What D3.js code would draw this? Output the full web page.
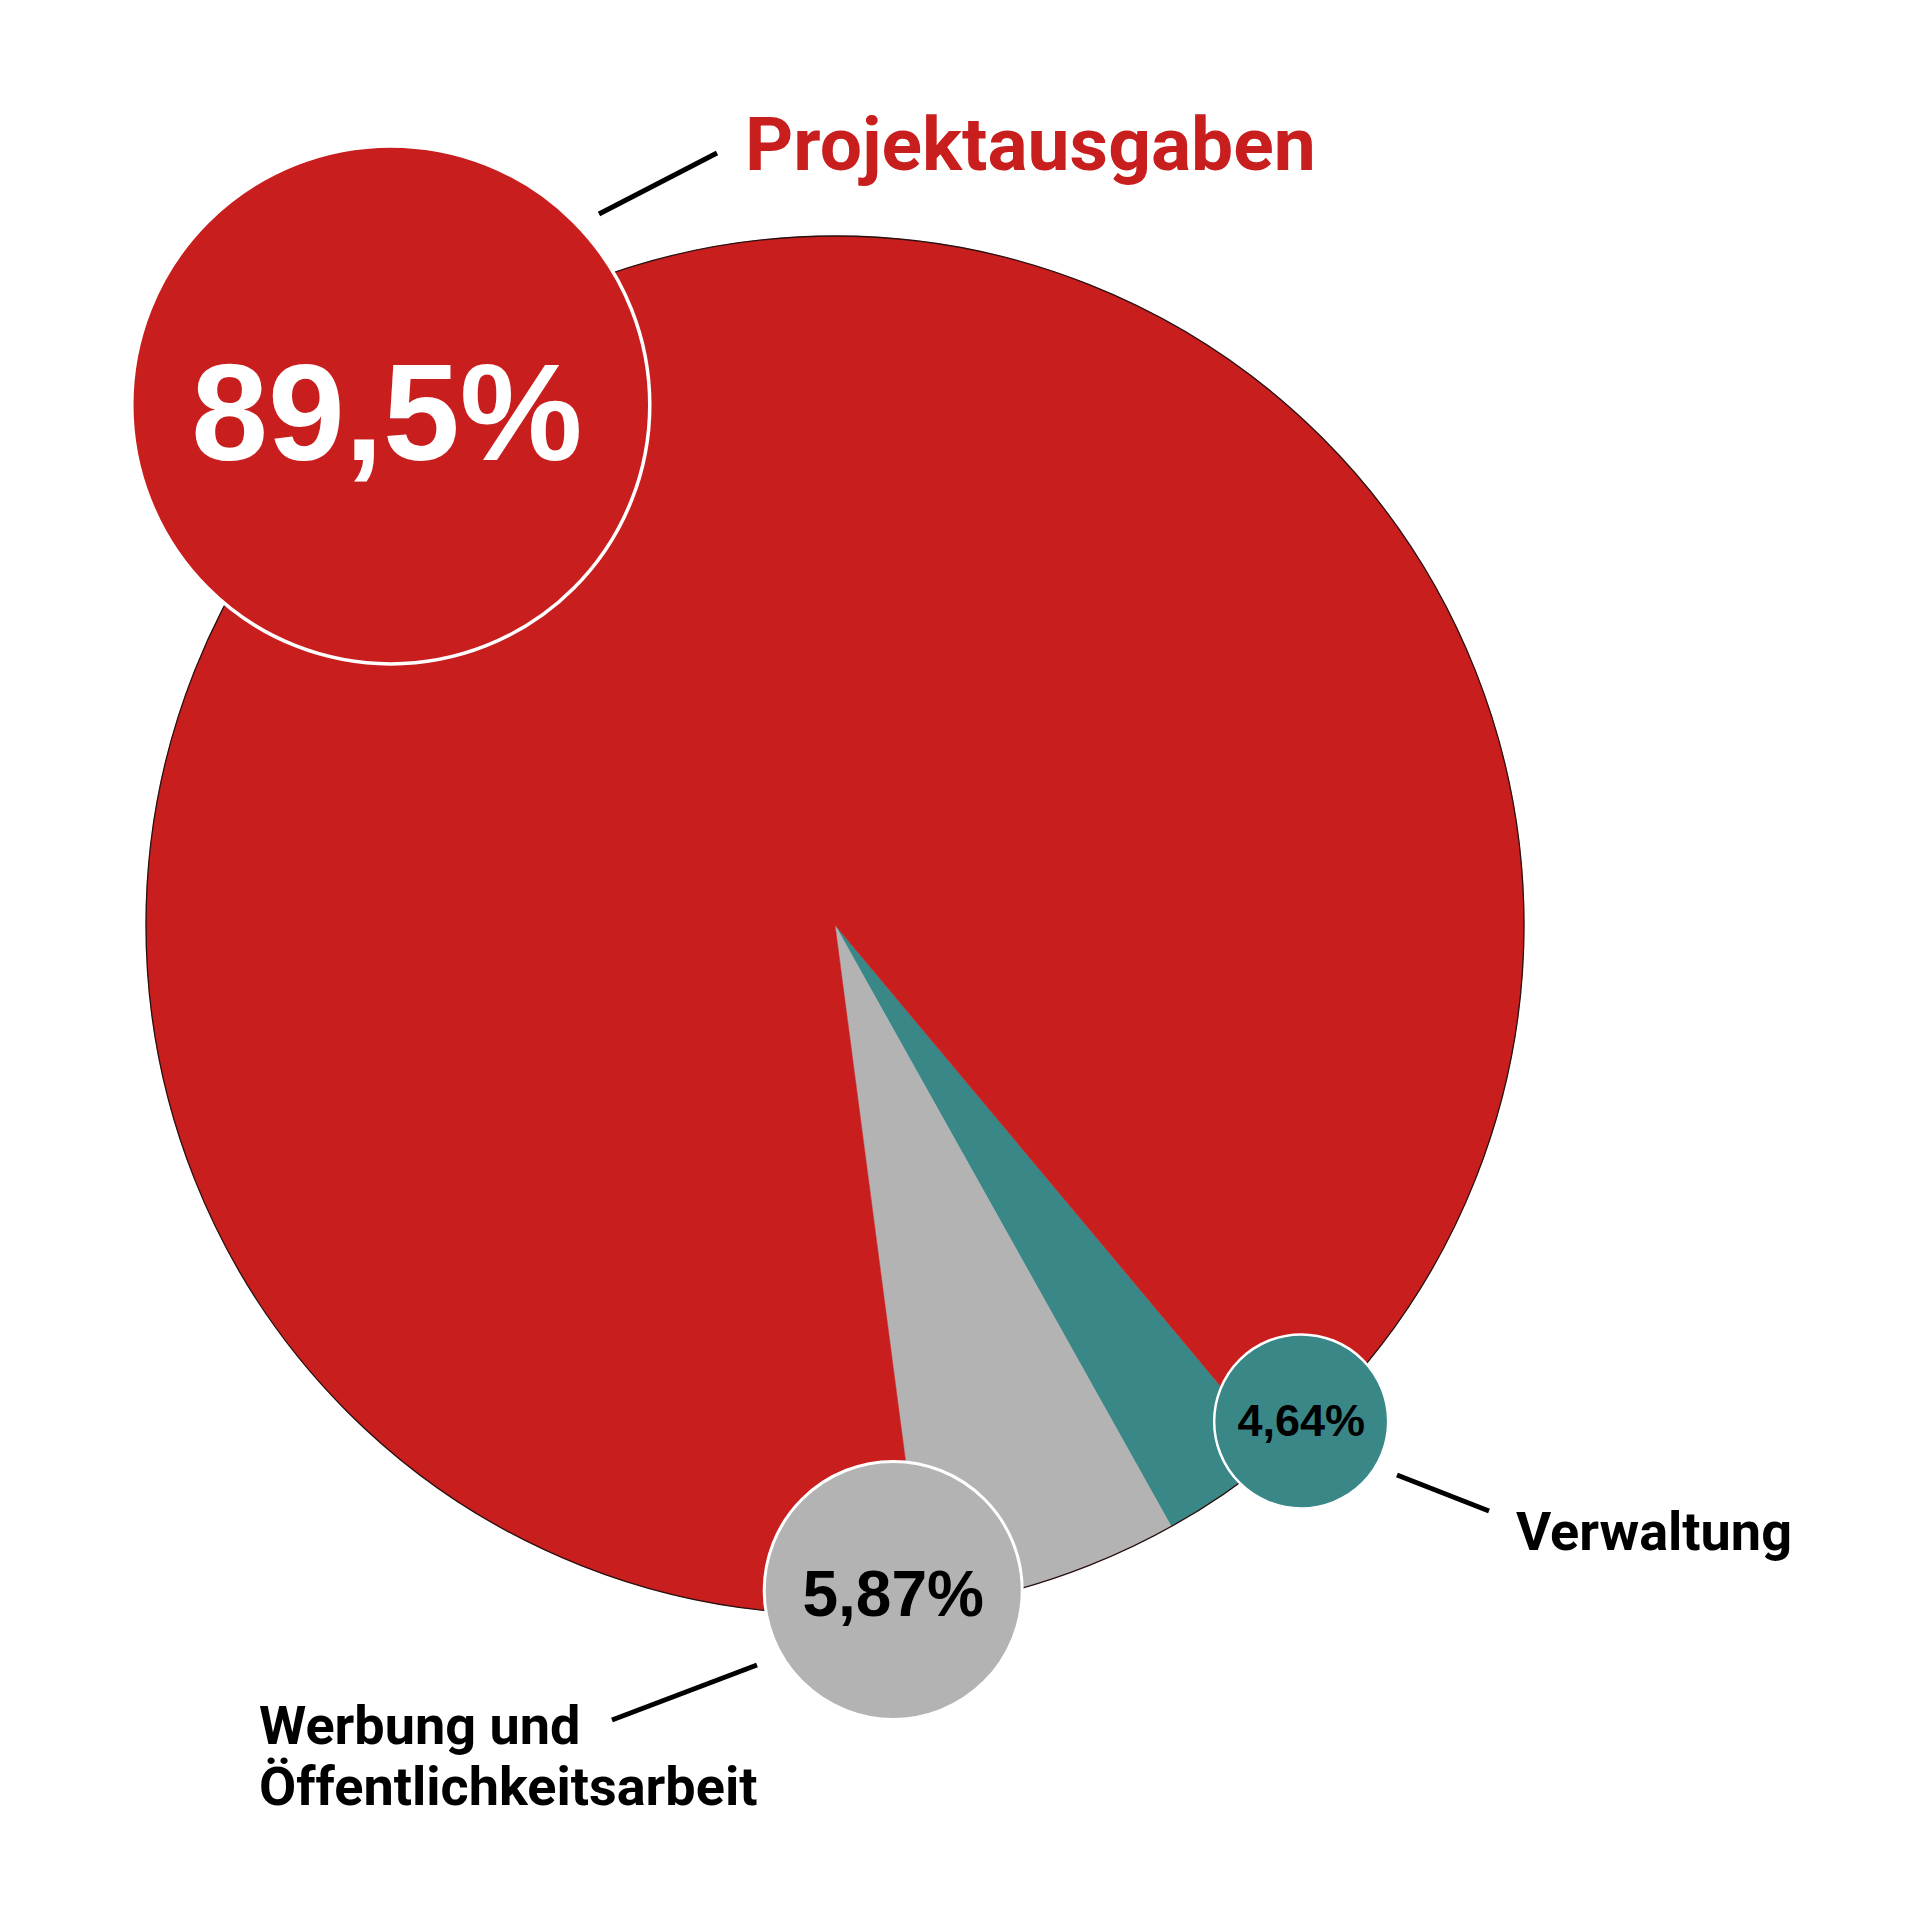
<!DOCTYPE html>
<html>
<head>
<meta charset="UTF-8">
<title>Ausgaben</title>
<script src="https://cdn.jsdelivr.net/npm/d3@7"></script>
<style>
  html, body { margin: 0; padding: 0; background: #ffffff; }
  svg { display: block; }
</style>
</head>
<body>
<script>
// data
var categories = ["Verwaltung", "Werbung und Öffentlichkeitsarbeit", "Projektausgaben"];
var shareLabels = ["4,64%", "5,87%", "89,5%"];
// slice sizes as drawn (measured from the slice angles)
var sliceValues = [2.97, 6.03, 91.0];
var labelLines = [["Verwaltung"], ["Werbung und", "Öffentlichkeitsarbeit"], ["Projektausgaben"]];

var colors = ["#3a8788", "#b3b3b3", "#c91e1e"];

var W = 1920, H = 1920;
var cx = 835, cy = 925, R = 689;
var startDeg = 140.1;

// bubble layout per category (angle in degrees clockwise from top, distance from centre)
var bubbles = [
    {angle: 136.8, dist: 681, r: 87, font: 45, dy: "0.33em", color: "#000", stroke: 2.5},
    {angle: 175.0, dist: 668, r: 129, font: 64, dy: "0.4em", color: "#000", stroke: 3},
    {angle: 319.5, dist: 684, r: 259, font: 138, dy: "0.4em", color: "#fff", stroke: 3.5, shift: -4}
];

// callout lines and label positions
var callouts = [
    {line: [[1397, 1475], [1489, 1511]], x: 1516, y: 1550, anchor: "start", fill: "#000", size: 54},
    {line: [[612, 1720], [757, 1665]], x: 259, y: 1744, anchor: "start", fill: "#000", size: 54},
    {line: [[599, 214], [717, 153]], x: 745, y: 170, anchor: "start", fill: "#c91e1e", size: 75}
];

var svg = d3.select("body").append("svg")
    .attr("width", W)
    .attr("height", H);

var g = svg.append("g").attr("transform", "translate(" + cx + "," + cy + ")");

var pie = d3.pie().sort(null)
    .startAngle(startDeg * Math.PI / 180)
    .endAngle(startDeg * Math.PI / 180 + 2 * Math.PI);

var arc = d3.arc().innerRadius(0).outerRadius(R);

var arcs = pie(sliceValues);

g.selectAll("path.slice").data(arcs).enter().append("path")
    .attr("class", "slice")
    .attr("d", arc)
    .attr("fill", function (d, i) { return colors[i]; })
    .attr("stroke", function (d, i) { return colors[i]; })
    .attr("stroke-width", 0.5);

// thin dark rim
g.append("circle").attr("r", R)
    .attr("fill", "none")
    .attr("stroke", "#2a1010")
    .attr("stroke-width", 1.3);

// leader lines
svg.selectAll("line.leader").data(callouts).enter().append("line")
    .attr("class", "leader")
    .attr("x1", function (d) { return d.line[0][0]; })
    .attr("y1", function (d) { return d.line[0][1]; })
    .attr("x2", function (d) { return d.line[1][0]; })
    .attr("y2", function (d) { return d.line[1][1]; })
    .attr("stroke", "#000")
    .attr("stroke-width", 5);

// bubbles
var bub = g.selectAll("g.bubble").data(bubbles).enter().append("g")
    .attr("class", "bubble")
    .attr("transform", function (d) {
        var p = d3.pointRadial(d.angle * Math.PI / 180, d.dist);
        return "translate(" + p[0] + "," + p[1] + ")";
    });

bub.append("circle")
    .attr("r", function (d) { return d.r; })
    .attr("fill", function (d, i) { return colors[i]; })
    .attr("stroke", "#fff")
    .attr("stroke-width", function (d) { return d.stroke; });

bub.append("text")
    .attr("x", function (d) { return d.shift || 0; })
    .attr("text-anchor", "middle")
    .attr("dy", function (d) { return d.dy; })
    .attr("font-family", "'Liberation Sans', Arial, sans-serif")
    .attr("font-weight", 700)
    .attr("font-size", function (d) { return d.font; })
    .attr("fill", function (d) { return d.color; })
    .text(function (d, i) { return shareLabels[i]; });

// category labels
var lab = svg.selectAll("text.cat").data(callouts).enter().append("text")
    .attr("class", "cat")
    .attr("x", function (d) { return d.x; })
    .attr("y", function (d) { return d.y; })
    .attr("text-anchor", function (d) { return d.anchor; })
    .attr("font-family", "Roboto, sans-serif")
    .attr("font-weight", 700)
    .attr("font-size", function (d) { return d.size; })
    .attr("fill", function (d) { return d.fill; });

lab.selectAll("tspan").data(function (d, i) { return labelLines[i]; }).enter().append("tspan")
    .attr("x", function () { return d3.select(this.parentNode).attr("x"); })
    .attr("dy", function (d, i) { return i === 0 ? 0 : 61; })
    .text(function (d) { return d; });
</script>
</body>
</html>
